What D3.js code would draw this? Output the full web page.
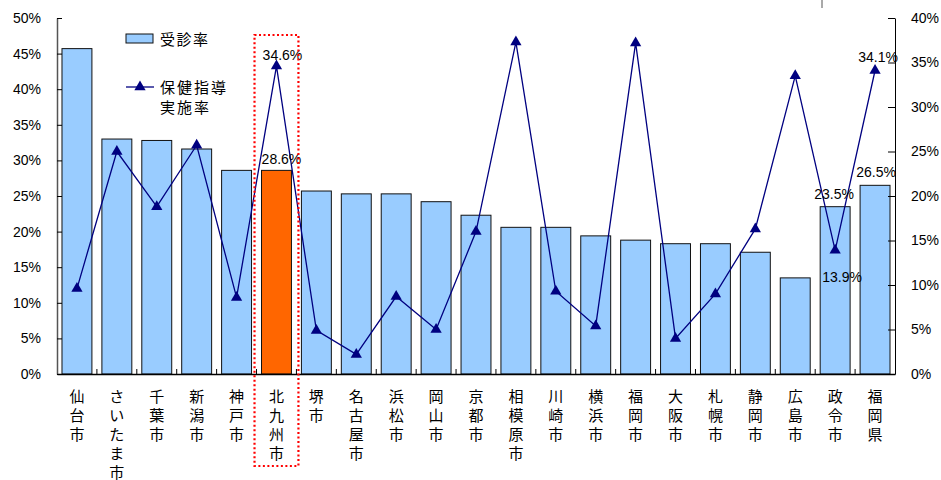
<!DOCTYPE html>
<html><head><meta charset="utf-8">
<script src="https://cdn.jsdelivr.net/npm/d3@7"></script>
<style>body{margin:0;background:#fff}svg{display:block}</style>
</head><body>
<svg id="c" width="941" height="480"></svg>
<script>
const categories = ["仙台市","さいたま市","千葉市","新潟市","神戸市","北九州市","堺市","名古屋市","浜松市","岡山市","京都市","相模原市","川崎市","横浜市","福岡市","大阪市","札幌市","静岡市","広島市","政令市","福岡県"];
const consultRate = [45.7,33.0,32.8,31.6,28.6,28.6,25.7,25.3,25.3,24.2,22.3,20.6,20.6,19.4,18.8,18.3,18.3,17.1,13.5,23.5,26.5];
const guidanceRate = [9.6,25.0,18.8,25.7,8.6,34.6,4.9,2.2,8.7,5.0,16.0,37.3,9.3,5.4,37.2,4.0,9.0,16.3,33.5,13.9,34.1];
const leftTicks = [0,5,10,15,20,25,30,35,40,45,50];
const rightTicks = [0,5,10,15,20,25,30,35,40];
const highlight = "北九州市";
const barLabels = ["北九州市","政令市","福岡県"];
const lineLabels = ["北九州市","政令市","福岡県"];

const svg = d3.select("#c");
const L = 57, R = 895, T = 18, B = 374;
const x = d3.scaleBand().domain(categories).range([L, R]).paddingInner(0.25).paddingOuter(0.125);
const yL = d3.scaleLinear().domain([0, 50]).range([B, T]);
const yR = d3.scaleLinear().domain([0, 40]).range([B, T]);
const fontNum = "'Liberation Sans', Arial, sans-serif";
const fontJp = "'Noto Sans CJK JP', sans-serif";

// bars
svg.append("g").selectAll("rect").data(categories).join("rect")
  .attr("x", d => x(d)).attr("width", x.bandwidth())
  .attr("y", (d,i) => yL(consultRate[i])).attr("height", (d,i) => B - yL(consultRate[i]))
  .attr("fill", d => d === highlight ? "#FF6600" : "#99CCFF")
  .attr("stroke", "#111").attr("stroke-width", 1);

// axes
const gl = svg.append("g").attr("transform", `translate(${L},0)`)
  .call(d3.axisLeft(yL).tickValues(leftTicks).tickFormat(d => d + "%").tickSizeInner(-5).tickSizeOuter(0).tickPadding(16));
gl.select(".domain").attr("stroke", "#555").attr("stroke-width", 1.5);
gl.selectAll("text").attr("font-family", fontNum).attr("font-size", 14).attr("fill", "#000");

const gr = svg.append("g").attr("transform", `translate(${R},0)`)
  .call(d3.axisRight(yR).tickValues(rightTicks).tickFormat(d => d + "%").tickSizeInner(-7).tickSizeOuter(0).tickPadding(16));
gr.selectAll("text").attr("font-family", fontNum).attr("font-size", 14).attr("fill", "#000");

const gb = svg.append("g").attr("transform", `translate(0,${B})`)
  .call(d3.axisBottom(x).tickSize(0).tickFormat(""));
gb.select(".domain").attr("stroke", "#000").attr("stroke-width", 1.5);
// inner boundary ticks
svg.append("g").selectAll("line").data(categories.slice(1)).join("line")
  .attr("x1", d => x(d) - x.step()*x.paddingInner()/2).attr("x2", d => x(d) - x.step()*x.paddingInner()/2)
  .attr("y1", B).attr("y2", B - 5).attr("stroke", "#000");

// category labels (vertical stacked)
const cl = svg.append("g");
categories.forEach(c => {
  const t = cl.append("text").attr("font-family", fontJp).attr("font-size", 15).attr("text-anchor", "middle").attr("fill", "#000");
  [...c].forEach((ch, j) => {
    t.append("tspan").attr("x", x(c) + x.bandwidth()/2).attr("y", 402 + j*19).text(ch);
  });
});

// line
const cx = d => x(d) + x.bandwidth()/2;
svg.append("path").datum(categories)
  .attr("d", d3.line().x(cx).y((d,i) => yR(guidanceRate[i])))
  .attr("fill", "none").attr("stroke", "#000080").attr("stroke-width", 1.3);
const tri = d3.symbol().type(d3.symbolTriangle).size(55);
svg.append("g").selectAll("path").data(categories).join("path")
  .attr("d", tri).attr("transform", (d,i) => `translate(${cx(d)},${yR(guidanceRate[i])})`)
  .attr("fill", "#000080");

// data labels
const lbl = svg.append("g").attr("font-family", fontNum).attr("font-size", 14).attr("fill", "#000").attr("text-anchor", "middle");
barLabels.forEach(c => {
  const i = categories.indexOf(c);
  let dx = 5, dy = -6;
  if (c === "政令市") { dx = -1; dy = -8; }
  if (c === "福岡県") { dx = 1; dy = -8; }
  lbl.append("text").attr("x", cx(c) + dx).attr("y", yL(consultRate[i]) + dy).text(consultRate[i].toFixed(1) + "%");
});
lineLabels.forEach(c => {
  const i = categories.indexOf(c);
  let dx = 6, dy = -6;
  if (c === "政令市") { dx = 7; dy = 32; }
  if (c === "福岡県") { dx = 3; dy = -9; }
  lbl.append("text").attr("x", cx(c) + dx).attr("y", yR(guidanceRate[i]) + dy).text(guidanceRate[i].toFixed(1) + "%");
});

// highlight box
const hx = x(highlight);
svg.append("rect").attr("x", hx - 7).attr("y", 35).attr("width", x.bandwidth() + 14).attr("height", 431)
  .attr("fill", "none").attr("stroke", "#FF0000").attr("stroke-width", 2.2).attr("stroke-dasharray", "2,2.5");

// legend
const lg = svg.append("g").attr("font-family", fontJp).attr("font-size", 15).attr("fill", "#000");
lg.append("rect").attr("x", 126).attr("y", 34).attr("width", 27).attr("height", 9).attr("fill", "#99CCFF").attr("stroke", "#111");
lg.append("text").attr("x", 160).attr("y", 45).attr("letter-spacing", 1.5).text("受診率");
lg.append("line").attr("x1", 126).attr("x2", 154).attr("y1", 87).attr("y2", 87).attr("stroke", "#000080").attr("stroke-width", 1.3);
lg.append("path").attr("d", tri).attr("transform", "translate(140,87)").attr("fill", "#000080");
lg.append("text").attr("x", 160).attr("y", 93).attr("letter-spacing", 2).text("保健指導");
lg.append("text").attr("x", 160).attr("y", 113).attr("letter-spacing", 2).text("実施率");

// small stray tick at top
svg.append("line").attr("x1", 822).attr("x2", 822).attr("y1", 0).attr("y2", 8).attr("stroke", "#555");
</script>
</body></html>
